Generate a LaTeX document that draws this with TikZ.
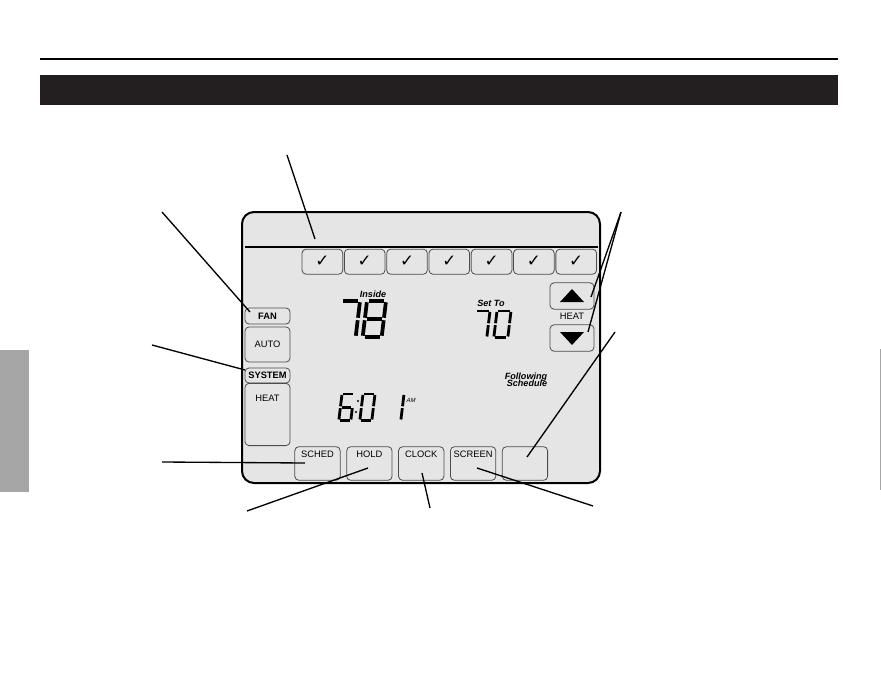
\documentclass[tikz,border=0pt]{standalone}
\usepackage{fontspec}
\setmainfont{Liberation Sans}
\newfontfamily\symfont{DejaVu Sans}
\usetikzlibrary{positioning}

% seven segment cell, 1 wide and 2 high, y going down
\newcommand\lcdA{(0.1,0)--(0.9,0)}
\newcommand\lcdB{(1,0.07)--(1,0.93)}
\newcommand\lcdC{(1,1.07)--(1,1.93)}
\newcommand\lcdD{(0.1,2)--(0.9,2)}
\newcommand\lcdE{(0,1.07)--(0,1.93)}
\newcommand\lcdF{(0,0.07)--(0,0.93)}
\newcommand\lcdG{(0.1,1)--(0.9,1)}
\newcommand\lcddigit[5]{%
  \begin{scope}[shift={#1},xslant=0.12,xscale=#2,yscale=#3]
    \foreach \s in {#5}{%
      \expandafter\let\expandafter\lcdpath\csname lcd\s\endcsname
      \draw[line width=#4] \lcdpath;}
  \end{scope}}

\begin{document}
\begin{tikzpicture}[x=0.75pt,y=-0.75pt,
  leader/.style={line width=1pt},
  key/.style={draw=keyedge,line width=0.6pt,rounded corners=3pt,inner sep=0pt,
    font=\fontsize{7}{8}\selectfont},
  softkey/.style={key,minimum width=34pt,inner ysep=2.6pt,text height=5.2pt,text depth=14.8pt},
  daybox/.style={key,minimum width=30.5pt,minimum height=18.8pt,font=\symfont\fontsize{12.5}{13}\selectfont},
  arrowkey/.style={key,minimum width=33pt,minimum height=19.8pt},
  sidekey/.style={key,minimum width=33.75pt},
  lcdtext/.style={font=\fontsize{6.8}{7}\selectfont\bfseries\itshape,inner sep=0pt}]
\definecolor{lcdgray}{rgb}{0.9,0.9,0.9}
\definecolor{keyedge}{rgb}{0.3,0.3,0.3}
\definecolor{tabgray}{rgb}{0.65,0.65,0.65}
\definecolor{barblack}{rgb}{0.137,0.122,0.125}
\useasboundingbox (0,0) rectangle (881,681);
\draw [line width=0.9pt] (40,59) -- (838,59);
\fill [barblack] (40,75) rectangle (838,105);
\fill [tabgray] (0,350) rectangle (29,492);
\draw [tabgray,line width=0.8pt] (880.4,349) -- (880.4,490);
% display
\draw [line width=1.5pt,rounded corners=9pt,fill=lcdgray] (242,212) rectangle (600,483);
\draw [line width=1.5pt] (245,246.5) -- (598,246.5);
\foreach \i in {0,...,6}
  \node [daybox] (day\i) at ({322.4+42.3*\i},261.7) {✓};
\node [arrowkey] (up) at (572,296) {};
\node [arrowkey] (down) at (572,338) {};
\fill (560,302) -- (584,302) -- (572,289) -- cycle;
\fill (560,332) -- (584,332) -- (572,345) -- cycle;
\node [font=\fontsize{7}{8}\selectfont] (heat) at (572,316.5) {HEAT};
\node [sidekey,minimum height=12pt,font=\fontsize{7}{8}\selectfont\bfseries] (fan) at (267.5,316) {FAN};
\node [sidekey,minimum height=26.3pt] (auto) at (267.5,344.5) {AUTO};
\node [sidekey,minimum height=11.3pt,font=\fontsize{7}{8}\selectfont\bfseries] (system) at (267.5,375.5) {SYSTEM};
\node [sidekey,inner ysep=8.5pt,text height=5.2pt,text depth=24.5pt] (mode) at (267.5,414.5) {HEAT};
\node [softkey] (sched) at (317.5,463.5) {SCHED};
\node [softkey,right=4.3pt of sched] (hold) {HOLD};
\node [softkey,right=4.3pt of hold] (clock) {CLOCK};
\node [softkey,right=4.3pt of clock] (screen) {SCREEN};
\node [softkey,right=4.3pt of screen] (blank) {};
% readings
\node [lcdtext] (inside) at (373,294) {Inside};
\lcddigit{(341,301)}{19}{18}{2.8pt}{A,B,C}
\lcddigit{(367,301)}{19}{18}{2.8pt}{A,B,C,D,E,F,G}
\node [lcdtext] (setto) at (491,303) {Set To};
\lcddigit{(476,311)}{14}{13.2}{2.1pt}{A,B,C}
\lcddigit{(497,311)}{14}{13.2}{2.1pt}{A,B,C,D,E,F}
\node [lcdtext,align=right] (following) at (526,380) {Following\\[-1.5pt]Schedule};
\lcddigit{(342,394)}{12}{13.2}{2.1pt}{A,C,D,E,F,G}
\fill (358,401) circle (1.2) (356,412) circle (1.2);
\lcddigit{(363,394)}{12}{13.2}{2.1pt}{A,B,C,D,E,F}
\lcddigit{(392,394)}{12}{13.2}{2.1pt}{B,C}
\node [lcdtext,font=\fontsize{4.5}{5}\selectfont\itshape] (am) at (411,400) {AM};
% leader lines
\coordinate (topend) at (287,155);   \coordinate (toptip) at (315,239);
\coordinate (fanend) at (162,212);   \coordinate (fantip) at (250,312);
\coordinate (sysend) at (152,345);   \coordinate (systip) at (245,370);
\coordinate (schedend) at (162,462); \coordinate (schedtip) at (305,463);
\coordinate (holdend) at (247,511);  \coordinate (holdtip) at (368,468);
\coordinate (clockend) at (430,508); \coordinate (clocktip) at (422,473);
\coordinate (screenend) at (593,506);\coordinate (screentip) at (477,468);
\coordinate (arrowend) at (621,212); \coordinate (uptip) at (591,297);
\coordinate (downtip) at (588,332);
\coordinate (blankend) at (615,332); \coordinate (blanktip) at (527,457);
\draw [leader] (topend) -- (toptip);
\draw [leader] (fanend) -- (fantip);
\draw [leader] (sysend) -- (systip);
\draw [leader] (schedend) -- (schedtip);
\draw [leader] (holdend) -- (holdtip);
\draw [leader] (clockend) -- (clocktip);
\draw [leader] (screenend) -- (screentip);
\draw [leader] (arrowend) -- (uptip);
\draw [leader] (arrowend) -- (downtip);
\draw [leader] (blankend) -- (blanktip);
\end{tikzpicture}
\end{document}
